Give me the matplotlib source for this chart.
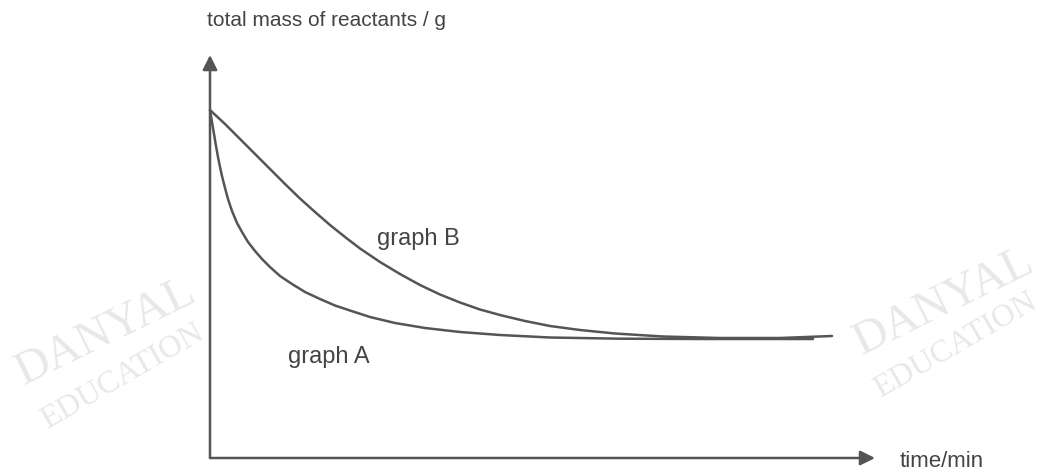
import matplotlib.pyplot as plt

# Readings for the two reaction curves (time in min, total mass in g)
time_a = [0, 0.2, 0.4, 0.6, 0.8, 1.0, 1.2, 1.5, 1.8, 2.2, 2.7, 3.2, 3.8, 4.5, 5.2,
          6.0, 7.0, 8.2, 9.5, 11.0, 12.5, 14.0, 16.0, 18.5, 21.5, 25.0, 29.0,
          34.0, 41.0, 49.0, 60.3]
mass_a = [34.8, 33.6, 32.4, 31.2, 30.1, 29.1, 28.2, 27.0, 25.9, 24.7, 23.5, 22.6,
          21.6, 20.7, 19.9, 19.1, 18.2, 17.4, 16.6, 15.9, 15.25, 14.75, 14.1, 13.5,
          13.0, 12.6, 12.3, 12.05, 11.93, 11.9, 11.9]

time_b = [0, 1.5, 3.0, 4.5, 6.0, 7.5, 9.0, 10.5, 12.0, 13.5, 15.0, 17.0, 19.0,
          21.0, 23.0, 25.0, 27.0, 29.0, 31.5, 34.0, 37.0, 40.5, 45.3, 51.0, 57.0,
          62.2]
mass_b = [34.8, 33.4, 31.9, 30.4, 28.9, 27.4, 25.95, 24.6, 23.3, 22.1, 20.95, 19.6,
          18.4, 17.3, 16.35, 15.55, 14.85, 14.3, 13.7, 13.2, 12.8, 12.45, 12.15,
          12.0, 12.0, 12.2]

line_col = '#555555'
text_col = '#444444'
plt.rcParams['font.family'] = ['Liberation Sans', 'DejaVu Sans']

fig = plt.figure(figsize=(10.45, 4.73), dpi=100)
ax = fig.add_axes([0, 0, 1, 1])
ax.set_xlim(-21, 83.5)
ax.set_ylim(-1.5, 45.8)
ax.axis('off')

# axes drawn as arrows from the origin
arrow = dict(arrowstyle='-|>', mutation_scale=22, color=line_col, lw=1.8,
             shrinkA=0, shrinkB=0)
ax.annotate('', xy=(66.5, 0), xytext=(0, 0), arrowprops=arrow)
ax.annotate('', xy=(0, 40.3), xytext=(0, 0), arrowprops=arrow)

for t, m in [(time_a, mass_a), (time_b, mass_b)]:
    ax.plot(t, m, color=line_col, lw=1.8, solid_capstyle='round',
            solid_joinstyle='round')

ax.text(-0.3, 43.8, 'total mass of reactants / g', fontsize=15, color=text_col,
        ha='left', va='center')
ax.text(69, -0.3, 'time/min', fontsize=16, color=text_col, ha='left', va='center')
ax.text(16.7, 21.9, 'graph B', fontsize=17, color=text_col, ha='left', va='center')
ax.text(7.8, 10.1, 'graph A', fontsize=17, color=text_col, ha='left', va='center')

# faint watermark, left and right
wm = dict(family='Liberation Serif', color='#e8e8e8', ha='center', va='center',
          zorder=0)
for cx, cy in [(106, 473 - 332), (944, 473 - 302)]:
    fig.text(cx / 1045, cy / 473, 'DANYAL', fontsize=34, rotation=26, **wm)
for cx, cy in [(123, 473 - 377), (956, 473 - 346)]:
    fig.text(cx / 1045, cy / 473, 'EDUCATION', fontsize=23, rotation=30, **wm)

fig.savefig('out.png', dpi=100)
